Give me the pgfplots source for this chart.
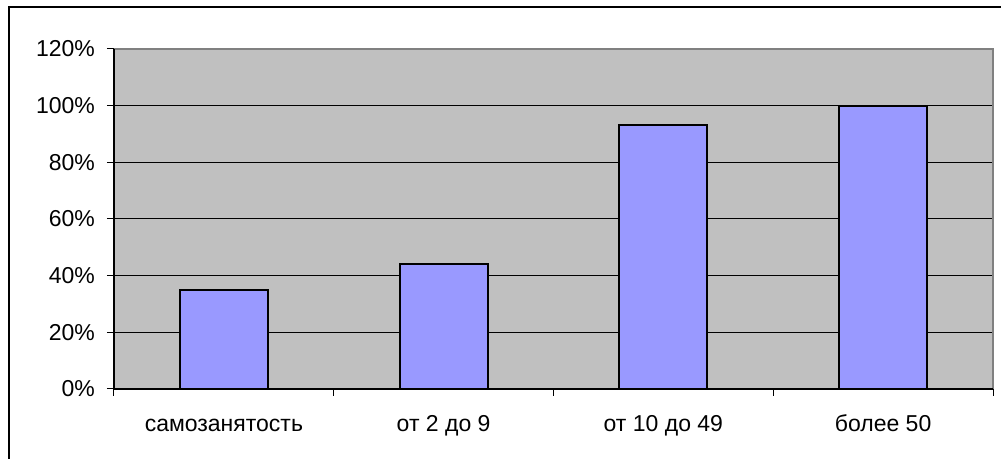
\documentclass[border=0pt]{standalone}
\usepackage{pgfplots}
\pgfplotsset{compat=1.18}
\usepackage{fontspec}
\setmainfont{Liberation Sans}

\definecolor{plotbg}{HTML}{C0C0C0}
\definecolor{barfill}{HTML}{9999FF}
\definecolor{framegray}{HTML}{808080}

\begin{document}
\begin{tikzpicture}
  % page area and outer chart frame
  \path[use as bounding box] (0,0) rectangle (500.5pt,229.5pt);
  \draw[black, line width=0.6pt] (4.5pt,-2pt) -- (4.5pt,226pt) -- (503pt,226pt);
  \begin{axis}[
    at={(57pt,35pt)}, anchor=south west,
    scale only axis,
    width=439.5pt, height=170pt,
    font=\fontsize{11.5}{13.5}\selectfont,
    /pgf/number format/assume math mode=true,
    axis background/.style={fill=plotbg},
    axis line style={draw=none},
    ymin=0, ymax=120,
    ytick={0,20,40,60,80,100,120},
    yticklabel={\pgfmathprintnumber{\tick}\%},
    ymajorgrids,
    grid style={black, line width=0.5pt},
    xmin=-0.5, xmax=3.5,
    xtick={0,1,2,3},
    xticklabels={самозанятость, от 2 до 9, от 10 до 49, более 50},
    minor xtick={-0.5,0.5,1.5,2.5,3.5},
    xtick pos=bottom, ytick pos=left,
    x tick style={draw=none},
    minor x tick style={draw=black, line width=0.5pt},
    y tick style={draw=black, line width=0.5pt},
    tick align=outside,
    major tick length=3.5pt,
    minor tick length=3.5pt,
    xticklabel style={anchor=base, yshift=-18pt},
    yticklabel style={xshift=-2.5pt},
    ybar, bar width=44pt,
    clip=false,
  ]
    \addplot[fill=barfill, draw=black, line width=1pt]
      coordinates {(0,35) (1,44) (2,93) (3,100)};
    % plot area frame: dark left/bottom, gray top/right
    \draw[framegray, line width=1pt] (rel axis cs:0,1) -- (rel axis cs:1,1) -- (rel axis cs:1,0);
    \draw[black, line width=0.6pt] (rel axis cs:0,1) -- (rel axis cs:0,0) -- (rel axis cs:1,0);
  \end{axis}
\end{tikzpicture}
\end{document}
